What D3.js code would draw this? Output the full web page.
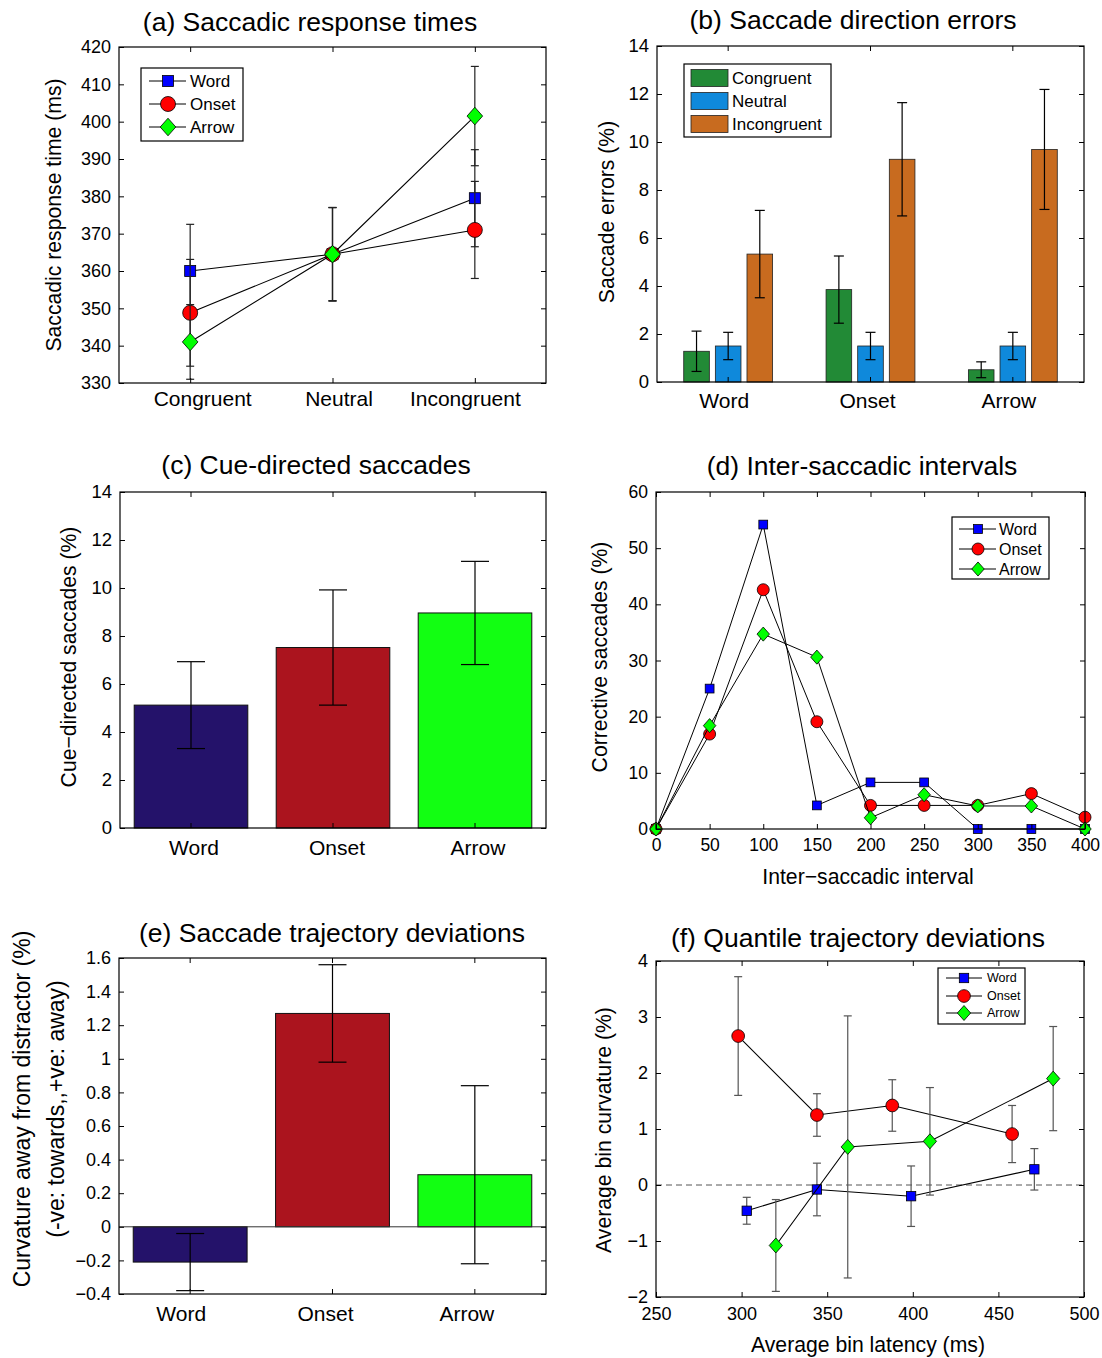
<!DOCTYPE html>
<html lang="en">
<head>
<meta charset="UTF-8" />
<title>Saccade panels</title>
<script src="https://d3js.org/d3.v7.min.js"></script>
<style>
  body { margin: 0; background: #fff; }
  text { font-family: "Liberation Sans", Arial, Helvetica, sans-serif; fill: #000; }
</style>
</head>
<body>
<script>
const cueTypes = ["Word", "Onset", "Arrow"];
const rtConditions = ["Congruent", "Neutral", "Incongruent"];

// (a) saccadic response times (ms), mean and error half-width
const rtWord = [360, 364.5, 379.5];
const rtOnset = [348.8, 364.5, 371];
const rtArrow = [341, 364.5, 401.5];
const rtWordErr = [12.5, 12.5, 13];
const rtOnsetErr = [14.3, 12.5, 13];
const rtArrowErr = [10, 12.5, 13.3];
const rtTicks = [330, 340, 350, 360, 370, 380, 390, 400, 410, 420];

// (b) direction errors (%) per cue type
const errCongruent = [1.28, 3.85, 0.51];
const errNeutral = [1.5, 1.5, 1.5];
const errIncongruent = [5.33, 9.28, 9.69];
const errCongruentSe = [0.84, 1.4, 0.33];
const errNeutralSe = [0.57, 0.57, 0.57];
const errIncongruentSe = [1.82, 2.36, 2.5];
const pctTicks = [0, 2, 4, 6, 8, 10, 12, 14];

// (c) cue-directed saccades (%)
const cueDirected = [5.12, 7.52, 8.96];
const cueDirectedSe = [1.81, 2.4, 2.15];

// (d) inter-saccadic intervals
const isiBins = [0, 50, 100, 150, 200, 250, 300, 350, 400];
const isiWord = [0, 25, 54.2, 4.2, 8.3, 8.3, 0, 0, 0];
const isiOnset = [0, 16.9, 42.6, 19.1, 4.2, 4.2, 4.2, 6.3, 2.1];
const isiArrow = [0, 18.4, 34.7, 30.6, 2.0, 6.1, 4.1, 4.1, 0];
const isiYTicks = [0, 10, 20, 30, 40, 50, 60];

// (e) trajectory deviations
const curvature = [-0.21, 1.27, 0.31];
const curvatureSe = [0.17, 0.29, 0.53];
const curvTicks = [-0.4, -0.2, 0, 0.2, 0.4, 0.6, 0.8, 1, 1.2, 1.4, 1.6];

// (f) quantile trajectory deviations
const qWordLat = [303, 344, 399, 471];
const qWordCurv = [-0.46, -0.08, -0.2, 0.28];
const qWordSe = [0.24, 0.47, 0.54, 0.37];
const qOnsetLat = [298, 344, 388, 458];
const qOnsetCurv = [2.66, 1.25, 1.42, 0.91];
const qOnsetSe = [1.06, 0.38, 0.46, 0.51];
const qArrowLat = [320, 362, 410, 482];
const qArrowCurv = [-1.08, 0.68, 0.78, 1.9];
const qArrowSe = [0.82, 2.34, 0.96, 0.93];
const qXTicks = [250, 300, 350, 400, 450, 500];
const qYTicks = [-2, -1, 0, 1, 2, 3, 4];

const FONT = '"Liberation Sans", Arial, Helvetica, sans-serif';
const svg = d3.select("body").append("svg").attr("width", 1102).attr("height", 1358);

const markerStyle = {
  Word: { type: "square", fill: "#0000ff" },
  Onset: { type: "circle", fill: "#ff0000" },
  Arrow: { type: "diamond", fill: "#00ff00" }
};

function marker(g, name, cx, cy, s) {
  const st = markerStyle[name];
  if (st.type === "circle") {
    g.append("circle").attr("cx", cx).attr("cy", cy).attr("r", s * 0.75)
      .attr("fill", st.fill).attr("stroke", "#000").attr("stroke-width", 0.8);
  } else if (st.type === "square") {
    const h = s * 0.55;
    g.append("rect").attr("x", cx - h).attr("y", cy - h).attr("width", 2 * h).attr("height", 2 * h)
      .attr("fill", st.fill).attr("stroke", "#000").attr("stroke-width", 0.8);
  } else {
    const w = s * 0.78, h = s * 0.88;
    g.append("path").attr("d", `M${cx},${cy - h}L${cx + w},${cy}L${cx},${cy + h}L${cx - w},${cy}Z`)
      .attr("fill", st.fill).attr("stroke", "#000").attr("stroke-width", 0.8);
  }
}

function frame(g, x, y, box, o) {
  const fs = o.tickFont || 18;
  const bottom = g.append("g").attr("transform", `translate(0,${box.B})`)
    .call(d3.axisBottom(x).tickValues(o.xTicks).tickFormat(o.xFmt).tickSizeInner(-5).tickSizeOuter(0).tickPadding(o.xPad || 10));
  bottom.selectAll("text").attr("font-size", o.xFont || fs).attr("font-family", FONT);
  // category labels in the original sit a little off their ticks
  if (o.xShift) bottom.selectAll("text").attr("dx", (d, i) => o.xShift[i]);
  g.append("g").attr("transform", `translate(0,${box.T})`)
    .call(d3.axisTop(x).tickValues(o.xTicks).tickFormat("").tickSizeInner(-5).tickSizeOuter(0));
  const left = g.append("g").attr("transform", `translate(${box.L},0)`)
    .call(d3.axisLeft(y).tickValues(o.yTicks).tickFormat(o.yFmt || d3.format("~g")).tickSizeInner(-5).tickSizeOuter(0).tickPadding(8));
  left.selectAll("text").attr("font-size", fs).attr("font-family", FONT);
  g.append("g").attr("transform", `translate(${box.R},0)`)
    .call(d3.axisRight(y).tickValues(o.yTicks).tickFormat("").tickSizeInner(-5).tickSizeOuter(0));
  g.selectAll(".domain").remove();
  g.selectAll(".tick line").attr("stroke", "#000");
  g.append("rect").attr("x", box.L).attr("y", box.T).attr("width", box.R - box.L).attr("height", box.B - box.T)
    .attr("fill", "none").attr("stroke", "#000").attr("stroke-width", 1.2);
}

function title(txt, x, y) {
  svg.append("text").attr("x", x).attr("y", y).attr("text-anchor", "middle")
    .attr("font-size", 26.5).text(txt);
}
function yLabel(txt, x, y, fs) {
  svg.append("text").attr("transform", `translate(${x},${y}) rotate(-90)`)
    .attr("text-anchor", "middle").attr("dominant-baseline", "central")
    .attr("font-size", fs || 21.2).text(txt);
}
function xLabel(txt, x, y) {
  svg.append("text").attr("x", x).attr("y", y).attr("text-anchor", "middle")
    .attr("font-size", 21.2).text(txt);
}
function errBar(g, cx, y0, y1, cap, color) {
  g.append("line").attr("x1", cx).attr("x2", cx).attr("y1", y0).attr("y2", y1).attr("stroke", color).attr("stroke-width", 1.2);
  [y0, y1].forEach(v => g.append("line").attr("x1", cx - cap).attr("x2", cx + cap).attr("y1", v).attr("y2", v)
    .attr("stroke", color).attr("stroke-width", 1.2));
}
function lineLegend(box, rows, lineX, markX, textX, fs, ms) {
  const g = svg.append("g");
  g.append("rect").attr("x", box.x).attr("y", box.y).attr("width", box.w).attr("height", box.h)
    .attr("fill", "#fff").attr("stroke", "#000").attr("stroke-width", 1.2);
  rows.forEach(r => {
    g.append("line").attr("x1", lineX[0]).attr("x2", lineX[1]).attr("y1", r.y).attr("y2", r.y).attr("stroke", "#000");
    marker(g, r.name, markX, r.y, ms);
    g.append("text").attr("x", textX).attr("y", r.y).attr("dominant-baseline", "central")
      .attr("font-size", fs).text(r.name);
  });
}

// ---------- (a) ----------
{
  const box = { L: 119, R: 546, T: 47, B: 383 };
  const x = d3.scalePoint().domain(rtConditions).range([box.L, box.R]).padding(0.5);
  const y = d3.scaleLinear().domain([330, 420]).range([box.B, box.T]);
  const g = svg.append("g");
  const series = [
    { name: "Word", v: rtWord, e: rtWordErr },
    { name: "Onset", v: rtOnset, e: rtOnsetErr },
    { name: "Arrow", v: rtArrow, e: rtArrowErr }
  ];
  const line = d3.line().x((d, i) => x(rtConditions[i])).y(d => y(d));
  series.forEach(s => {
    s.v.forEach((v, i) => errBar(g, x(rtConditions[i]), y(v - s.e[i]), y(v + s.e[i]), 4, "#222"));
    g.append("path").attr("d", line(s.v)).attr("fill", "none").attr("stroke", "#000").attr("stroke-width", 1.1);
    s.v.forEach((v, i) => marker(g, s.name, x(rtConditions[i]), y(v), 10));
  });
  frame(g, x, y, box, { xTicks: rtConditions, xFmt: d => d, yTicks: rtTicks, xFont: 21, xPad: 8, xShift: [12, 6, -10] });
  title("(a) Saccadic response times", 310, 31);
  yLabel("Saccadic response time (ms)", 53, 215);
  lineLegend({ x: 141, y: 68, w: 102, h: 73 },
    [{ name: "Word", y: 81 }, { name: "Onset", y: 104 }, { name: "Arrow", y: 127 }],
    [149, 186], 168, 190, 17, 10);
}

// ---------- (b) ----------
{
  const box = { L: 657, R: 1084, T: 46, B: 382 };
  const x = d3.scaleBand().domain(cueTypes).range([box.L, box.R]).paddingInner(0.2).paddingOuter(0.1);
  const step = x.step();
  const inner = d3.scaleBand().domain(rtConditions).range([-step / 3, step / 3]).paddingInner(0.19).paddingOuter(0.095);
  const y = d3.scaleLinear().domain([0, 14]).range([box.B, box.T]);
  const colors = ["#228a36", "#0f89db", "#c86b1f"];
  const vals = [errCongruent, errNeutral, errIncongruent];
  const ses = [errCongruentSe, errNeutralSe, errIncongruentSe];
  const g = svg.append("g");
  rtConditions.forEach((c, k) => {
    cueTypes.forEach((t, i) => {
      const cx = x(t) + x.bandwidth() / 2;
      const bx = cx + inner(c);
      g.append("rect").attr("x", bx).attr("y", y(vals[k][i])).attr("width", inner.bandwidth())
        .attr("height", y(0) - y(vals[k][i])).attr("fill", colors[k]).attr("stroke", "#222").attr("stroke-width", 0.8);
    });
  });
  rtConditions.forEach((c, k) => {
    cueTypes.forEach((t, i) => {
      const bc = x(t) + x.bandwidth() / 2 + inner(c) + inner.bandwidth() / 2;
      errBar(g, bc, y(vals[k][i] - ses[k][i]), y(vals[k][i] + ses[k][i]), 5, "#000");
    });
  });
  frame(g, x, y, box, { xTicks: cueTypes, xFmt: d => d, yTicks: pctTicks, tickFont: 18.5, xFont: 21, xPad: 11, xShift: [-4, -3, -4] });
  title("(b) Saccade direction errors", 853, 29);
  yLabel("Saccade errors (%)", 606, 212);
  const lg = svg.append("g");
  lg.append("rect").attr("x", 684).attr("y", 64).attr("width", 147).attr("height", 73)
    .attr("fill", "#fff").attr("stroke", "#000").attr("stroke-width", 1.2);
  rtConditions.forEach((c, k) => {
    const cy = 78 + k * 23;
    lg.append("rect").attr("x", 691).attr("y", cy - 8.5).attr("width", 37).attr("height", 17)
      .attr("fill", colors[k]).attr("stroke", "#222").attr("stroke-width", 0.8);
    lg.append("text").attr("x", 732).attr("y", cy).attr("dominant-baseline", "central")
      .attr("font-size", 17).text(c);
  });
}

// ---------- (c) ----------
const barColors = ["#24126a", "#ab141e", "#12ff12"];
{
  const box = { L: 120, R: 546, T: 492, B: 828 };
  const x = d3.scaleBand().domain(cueTypes).range([box.L, box.R]).paddingInner(0.2).paddingOuter(0.1);
  const y = d3.scaleLinear().domain([0, 14]).range([box.B, box.T]);
  const g = svg.append("g");
  cueTypes.forEach((t, i) => {
    g.append("rect").attr("x", x(t)).attr("y", y(cueDirected[i])).attr("width", x.bandwidth())
      .attr("height", y(0) - y(cueDirected[i])).attr("fill", barColors[i]).attr("stroke", "#111").attr("stroke-width", 1);
  });
  cueTypes.forEach((t, i) => {
    errBar(g, x(t) + x.bandwidth() / 2, y(cueDirected[i] - cueDirectedSe[i]), y(cueDirected[i] + cueDirectedSe[i]), 14, "#000");
  });
  frame(g, x, y, box, { xTicks: cueTypes, xFmt: d => d, yTicks: pctTicks, tickFont: 18.5, xFont: 21, xPad: 12, xShift: [3, 4, 3] });
  title("(c) Cue-directed saccades", 316, 474);
  yLabel("Cue\u2212directed saccades (%)", 68, 657);
}

// ---------- (d) ----------
{
  const box = { L: 656, R: 1085, T: 492, B: 829 };
  const x = d3.scaleLinear().domain([0, 400]).range([box.L, box.R]);
  const y = d3.scaleLinear().domain([0, 60]).range([box.B, box.T]);
  const g = svg.append("g");
  const series = [
    { name: "Word", v: isiWord }, { name: "Onset", v: isiOnset }, { name: "Arrow", v: isiArrow }
  ];
  const line = d3.line().x((d, i) => x(isiBins[i])).y(d => y(d));
  series.forEach(s => {
    g.append("path").attr("d", line(s.v)).attr("fill", "none").attr("stroke", "#000").attr("stroke-width", 1);
    s.v.forEach((v, i) => marker(g, s.name, x(isiBins[i]), y(v), 8));
  });
  frame(g, x, y, box, { xTicks: isiBins, xFmt: d3.format("d"), yTicks: isiYTicks, tickFont: 17.5, xPad: 10 });
  title("(d) Inter-saccadic intervals", 862, 475);
  yLabel("Corrective saccades (%)", 599, 657);
  xLabel("Inter\u2212saccadic interval", 868, 884);
  lineLegend({ x: 952, y: 517, w: 97, h: 62 },
    [{ name: "Word", y: 529 }, { name: "Onset", y: 549 }, { name: "Arrow", y: 569 }],
    [959, 996], 978, 999, 16, 8);
}

// ---------- (e) ----------
{
  const box = { L: 119, R: 546, T: 958, B: 1294 };
  const x = d3.scaleBand().domain(cueTypes).range([box.L, box.R]).paddingInner(0.2).paddingOuter(0.1);
  const y = d3.scaleLinear().domain([-0.4, 1.6]).range([box.B, box.T]);
  const g = svg.append("g");
  cueTypes.forEach((t, i) => {
    const v = curvature[i];
    g.append("rect").attr("x", x(t)).attr("y", y(Math.max(0, v))).attr("width", x.bandwidth())
      .attr("height", Math.abs(y(v) - y(0))).attr("fill", barColors[i]).attr("stroke", "#111").attr("stroke-width", 1);
  });
  g.append("line").attr("x1", box.L).attr("x2", box.R).attr("y1", y(0)).attr("y2", y(0)).attr("stroke", "#333");
  cueTypes.forEach((t, i) => {
    errBar(g, x(t) + x.bandwidth() / 2, y(curvature[i] - curvatureSe[i]), y(curvature[i] + curvatureSe[i]), 14, "#000");
  });
  frame(g, x, y, box, { xTicks: cueTypes, xFmt: d => d, yTicks: curvTicks, xFont: 21, xPad: 12, xShift: [-9, -7, -8] });
  title("(e) Saccade trajectory deviations", 332, 942);
  yLabel("Curvature away from distractor (%)", 22, 1109, 23);
  yLabel("(-ve: towards,,+ve: away)", 56, 1109, 23);
}

// ---------- (f) ----------
{
  const box = { L: 656, R: 1084, T: 961, B: 1297 };
  const x = d3.scaleLinear().domain([250, 500]).range([box.L, box.R]);
  const y = d3.scaleLinear().domain([-2, 4]).range([box.B, box.T]);
  const g = svg.append("g");
  g.append("line").attr("x1", box.L).attr("x2", box.R).attr("y1", y(0)).attr("y2", y(0))
    .attr("stroke", "#555").attr("stroke-dasharray", "6,4");
  const series = [
    { name: "Word", lat: qWordLat, v: qWordCurv, e: qWordSe },
    { name: "Onset", lat: qOnsetLat, v: qOnsetCurv, e: qOnsetSe },
    { name: "Arrow", lat: qArrowLat, v: qArrowCurv, e: qArrowSe }
  ];
  series.forEach(s => {
    const line = d3.line().x((d, i) => x(s.lat[i])).y(d => y(d));
    s.v.forEach((v, i) => errBar(g, x(s.lat[i]), y(v - s.e[i]), y(v + s.e[i]), 4, "#555"));
    g.append("path").attr("d", line(s.v)).attr("fill", "none").attr("stroke", "#000").attr("stroke-width", 1.1);
    s.v.forEach((v, i) => marker(g, s.name, x(s.lat[i]), y(v), 8.5));
  });
  frame(g, x, y, box, { xTicks: qXTicks, xFmt: d3.format("d"), yTicks: qYTicks, xPad: 10 });
  title("(f) Quantile trajectory deviations", 858, 947);
  yLabel("Average bin curvature (%)", 603, 1130);
  xLabel("Average bin latency (ms)", 868, 1352);
  lineLegend({ x: 938, y: 968, w: 87, h: 56 },
    [{ name: "Word", y: 978 }, { name: "Onset", y: 996 }, { name: "Arrow", y: 1013 }],
    [946, 982], 964, 987, 12.5, 8.5);
}
</script>
</body>
</html>
